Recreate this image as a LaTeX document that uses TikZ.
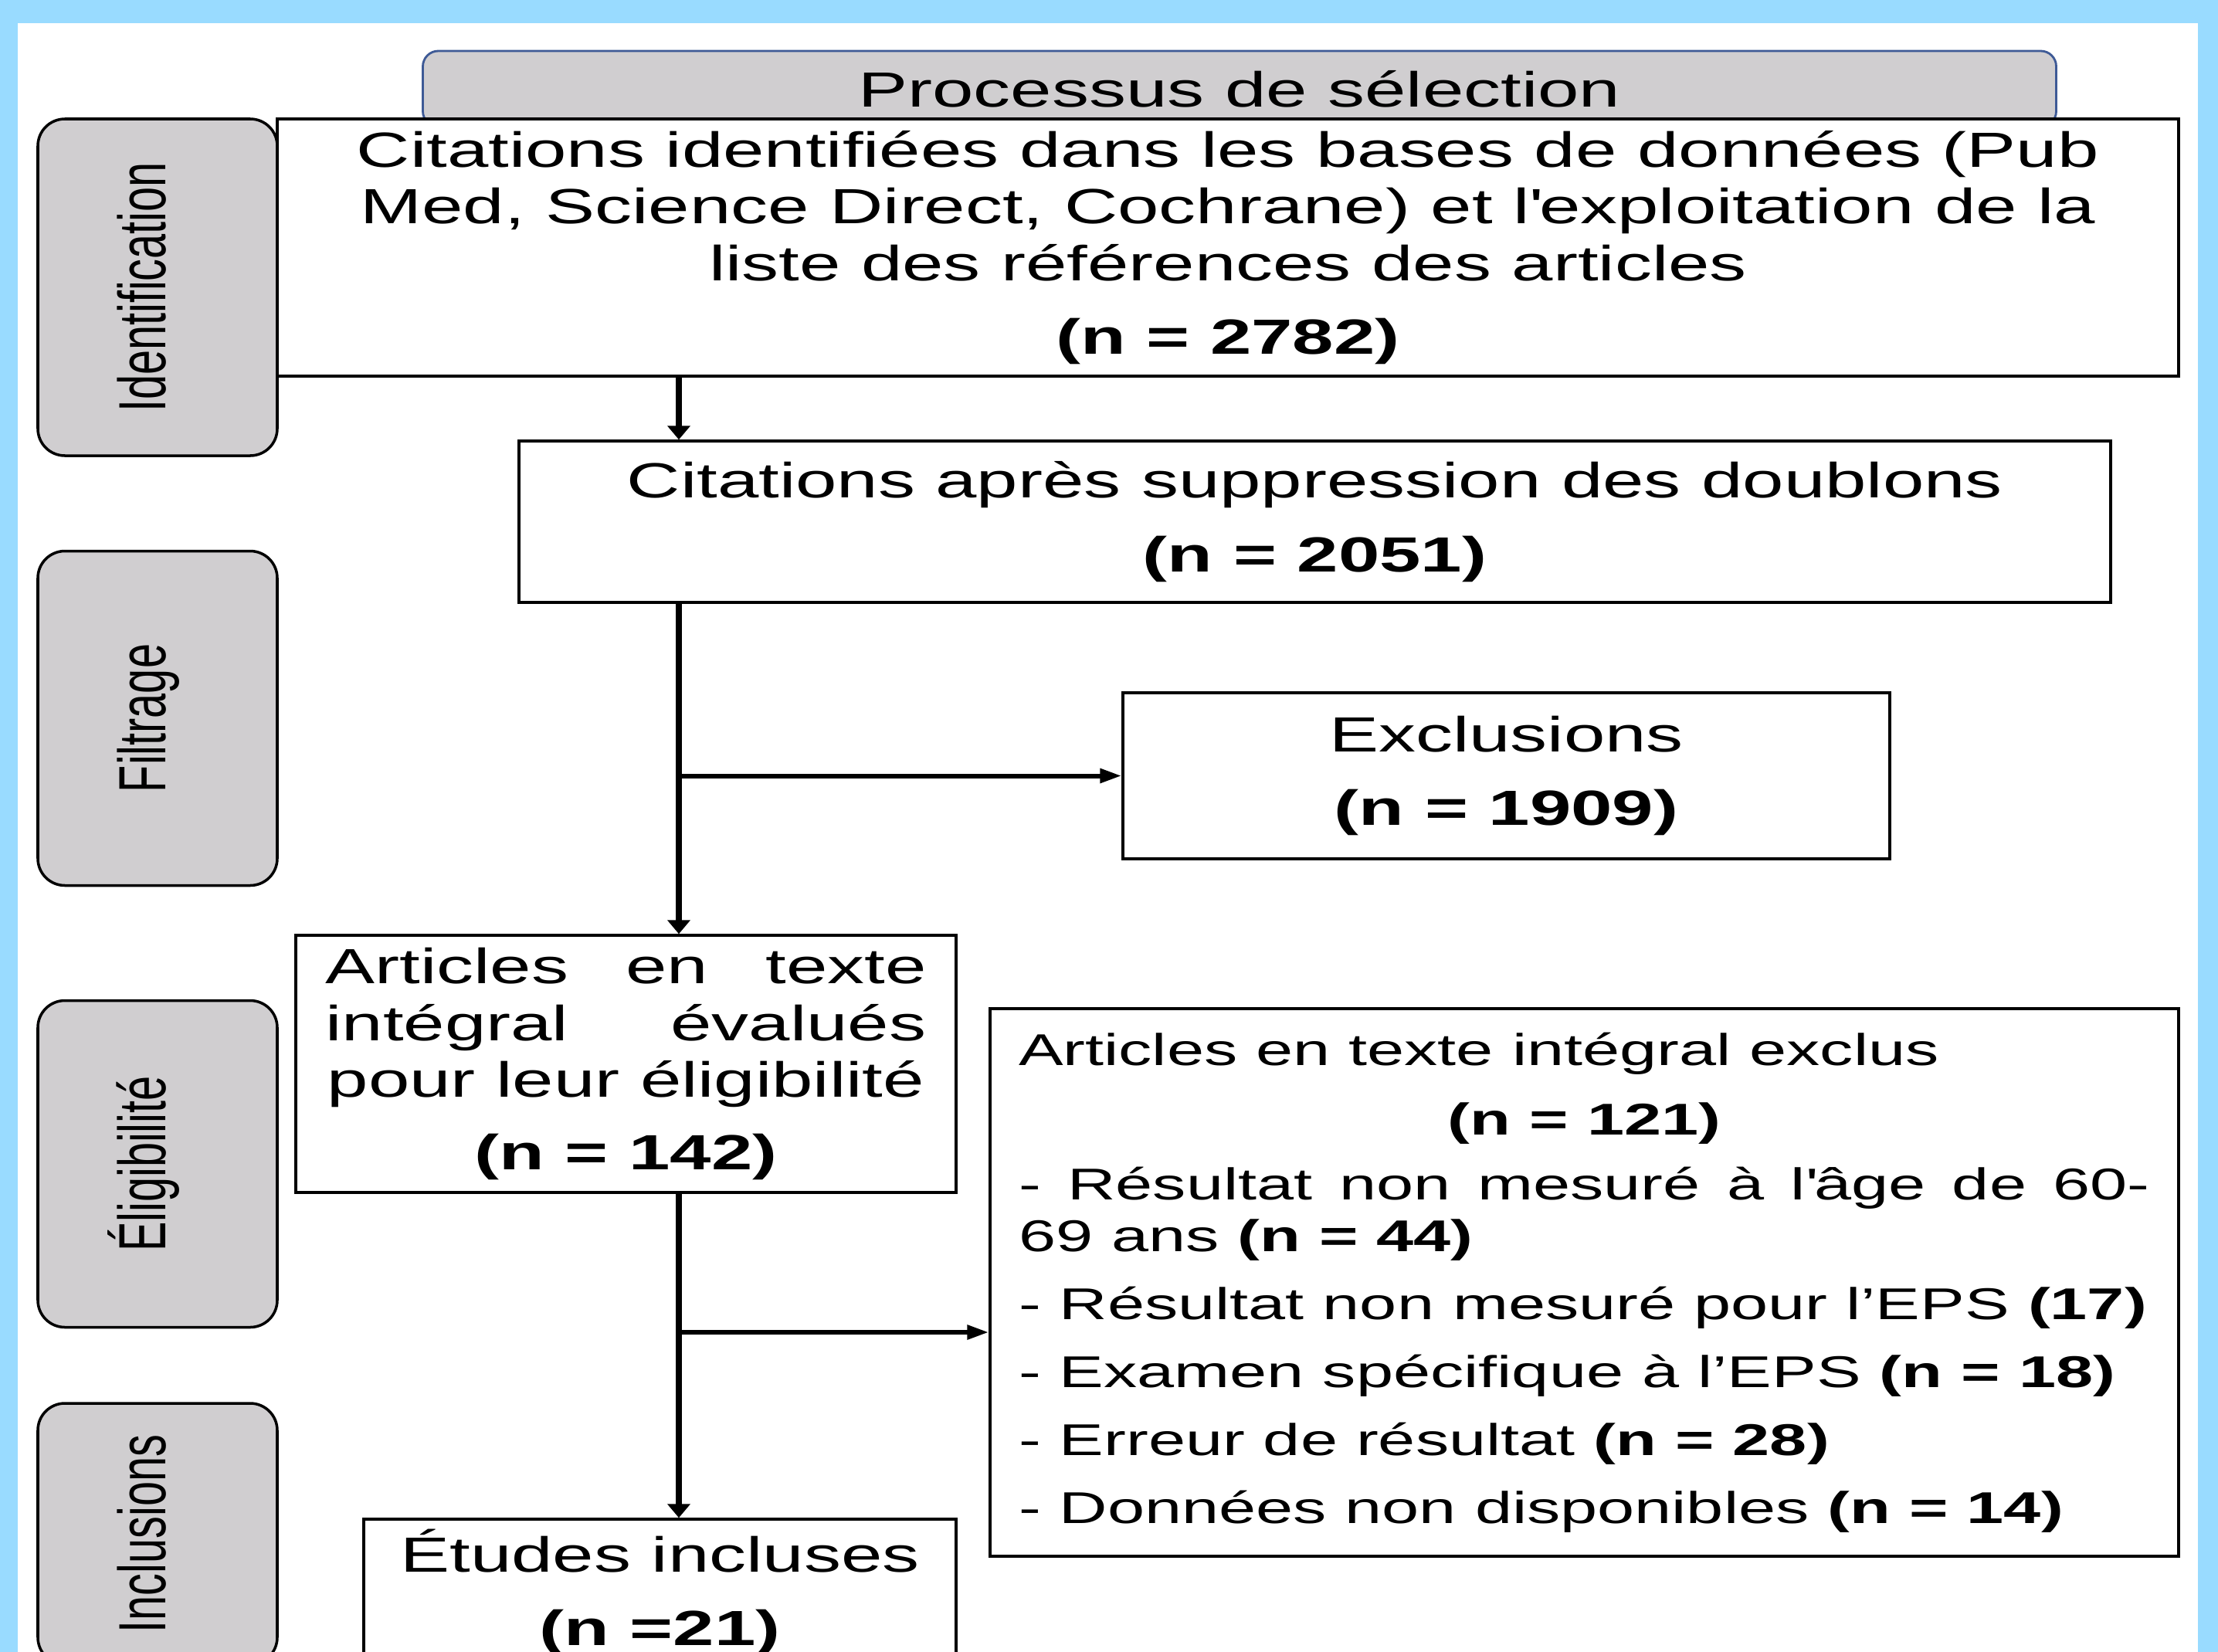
\documentclass[tikz,border=0pt]{standalone}
\usepackage{fontspec}
\newfontfamily\boxfont[FakeStretch=1.5]{Liberation Sans}
\newfontfamily\sidefont[FakeStretch=0.667]{Liberation Sans}
\usetikzlibrary{arrows.meta}
\definecolor{bgblue}{RGB}{153,219,255}
\definecolor{boxgray}{RGB}{208,206,208}
\definecolor{headblue}{RGB}{62,90,150}

\begin{document}
\begin{tikzpicture}[
    box/.style={draw,line width=1pt,fill=white,inner sep=0pt,align=center,
      font=\boxfont\fontsize{18.2pt}{20.9pt}\selectfont},
    smallbox/.style={box,align=left,font=\boxfont\fontsize{16.4pt}{19.3pt}\selectfont},
    sidebox/.style={draw,line width=1pt,fill=boxgray,rounded corners=0.35cm,
      rotate=90,inner sep=0pt,minimum height=3.1cm,
      text height=0.62cm,text depth=0.42cm,
      font=\sidefont\fontsize{24.6pt}{28pt}\selectfont},
    varr/.style={line width=2.3pt,-{Triangle[length=0.18cm,width=0.29cm]}},
    harr/.style={line width=1.7pt,-{Triangle[length=0.28cm,width=0.18cm]}}]
  \clip (0,0) rectangle (28.72,-21.39);
  \fill[bgblue] (0,0) rectangle (28.72,-21.39);
  \fill[white] (0.23,-0.30) rectangle (28.46,-21.6);

  % title tab, partly hidden by the first box
  \node[draw=headblue,line width=0.8pt,fill=boxgray,rounded corners=0.2cm,
    minimum width=21.15cm,minimum height=0.98cm,inner sep=0pt,
    font=\boxfont\fontsize{18.2pt}{20.9pt}\selectfont] (head) at (16.05,-1.15)
    {Processus de sélection};

  % phases
  \node[sidebox,minimum width=4.36cm] (sident) at (2.04,-3.72)  {Identification};
  \node[sidebox,minimum width=4.33cm] (sfilt)  at (2.04,-9.30)  {Filtrage};
  \node[sidebox,minimum width=4.23cm] (selig)  at (2.04,-15.07) {Éligibilité};
  \node[sidebox,minimum width=3.38cm] (sincl)  at (2.04,-19.86) {Inclusions};

  % boxes
  \node[box,minimum width=24.62cm,minimum height=3.33cm] (ident) at (15.90,-3.205)
    {Citations identifiées dans les bases de données (Pub\\
     Med, Science Direct, Cochrane) et l\textquotesingle exploitation de la\\
     liste des références des articles\\[0.22cm]
     \textbf{(n = 2782)}};
  \node[box,minimum width=20.61cm,minimum height=2.09cm] (doublons) at (17.025,-6.755)
    {Citations après suppression des doublons\\[0.22cm]
     \textbf{(n = 2051)}};
  \node[box,minimum width=9.93cm,minimum height=2.15cm] (excl1) at (19.505,-10.045)
    {Exclusions\\[0.22cm]
     \textbf{(n = 1909)}};
  \node[box,minimum width=8.55cm,minimum height=3.33cm] (fulltext) at (8.105,-13.775)
    {\makebox[7.78cm][s]{Articles en texte}\\
     \makebox[7.78cm][s]{intégral évalués}\\
     pour leur éligibilité\\[0.2cm]
     \textbf{(n = 142)}};
  \node[smallbox,minimum width=15.39cm,minimum height=7.09cm] (excl2) at (20.515,-16.605)
    {Articles en texte intégral exclus\\[0.22cm]
     \makebox[14.65cm]{\textbf{(n = 121)}}\\[0.16cm]
     \makebox[14.65cm][s]{- Résultat non mesuré à l\textquotesingle âge de 60-}\\
     69 ans \textbf{(n = 44)}\\[0.2cm]
     - Résultat non mesuré pour l’EPS \textbf{(17)}\\[0.2cm]
     - Examen spécifique à l’EPS \textbf{(n = 18)}\\[0.2cm]
     - Erreur de résultat \textbf{(n = 28)}\\[0.2cm]
     - Données non disponibles \textbf{(n = 14)}};
  \node[box,minimum width=7.67cm,minimum height=1.9cm] (incl) at (8.545,-20.62)
    {Études incluses\\[0.22cm]
     \textbf{(n =21)}};

  % flow
  \coordinate (axis) at (8.79,0);
  \coordinate (fork) at (8.79,-17.25);
  \draw[varr] (ident.south -| axis) -- (doublons.north -| axis);
  \draw[varr] (doublons.south -| axis) -- (fulltext.north -| axis);
  \draw[harr] (axis |- excl1.west) -- (excl1.west);
  \draw[varr] (fulltext.south -| axis) -- (incl.north -| axis);
  \draw[harr] (fork) -- (fork -| excl2.west);
\end{tikzpicture}
\end{document}
